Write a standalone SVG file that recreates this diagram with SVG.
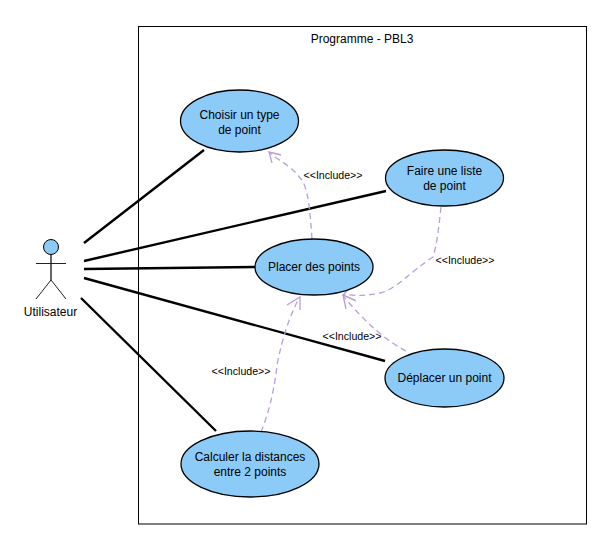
<svg xmlns="http://www.w3.org/2000/svg" width="615" height="547" viewBox="0 0 615 547">
<style>
text{font-family:"Liberation Sans",Arial,sans-serif;font-size:12px;text-anchor:middle;fill:#000}
.s{font-size:10.600px}
.u{fill:#8ccbf7;stroke:#000;stroke-width:1.3}
.a{fill:none;stroke:#000;stroke-width:2.4}
.d{fill:none;stroke:#b79fdc;stroke-width:1.3;stroke-dasharray:6 4}
.h{fill:none;stroke:#b79fdc;stroke-width:1.3}
</style>
<rect width="615" height="547" fill="#fff"/>
<g id="system"><rect x="138.500" y="26.500" width="448" height="497.500" fill="#fff" stroke="#000" stroke-width="1"/><text x="362" y="43">Programme - PBL3</text></g>
<g id="connectors">
<path class="a" d="M84 243L204 150M84 261L386 191M84 269L255 267M84 278L385 361M81 298L216 431"/>
<path class="d" d="M312 239C310 210 308 185 300 178C292 166 280 162 270 153"/><path class="h" d="M272 163L269 152L281 155"/>
<path class="d" d="M441 207C439 225 437 245 433 257C410 272 395 290 380 293C365 296 355 296 344 294"/><path class="h" d="M356 301L343 295L352 285"/>
<path class="d" d="M406 351C385 340 365 322 344 297"/><path class="h" d="M346 309L343 295L355 300"/>
<path class="d" d="M261 432C270 410 275 385 277 365C282 340 288 320 299 298"/><path class="h" d="M287 305L300 297L300 310"/>
</g>
<g id="actor"><circle cx="51" cy="247" r="7.500" fill="#8ccbf7" stroke="#000" stroke-width="1"/><path d="M51 255V280" stroke="#666" stroke-width="2" fill="none"/><path d="M36 263.500H66M36 299L51 280L66 299" stroke="#222" stroke-width="1" fill="none"/><text x="50.500" y="316">Utilisateur</text></g>
<g id="uc1"><ellipse class="u" cx="239.500" cy="121" rx="59" ry="31"/><text x="239.500" y="119">Choisir un type</text><text x="239.500" y="134">de point</text></g>
<g id="uc2"><ellipse class="u" cx="444.500" cy="178" rx="59" ry="28"/><text x="444.500" y="175">Faire une liste</text><text x="444.500" y="190">de point</text></g>
<g id="uc3"><ellipse class="u" cx="314" cy="267" rx="59" ry="28"/><text x="314" y="271">Placer des points</text></g>
<g id="uc4"><ellipse class="u" cx="444.500" cy="378" rx="59.500" ry="29"/><text x="444.500" y="382">Déplacer un point</text></g>
<g id="uc5"><ellipse class="u" cx="250" cy="464" rx="69" ry="33"/><text x="250" y="461">Calculer la distances</text><text x="250" y="476">entre 2 points</text></g>
<g id="labels"><text class="s" x="333" y="179">&lt;&lt;Include&gt;&gt;</text><text class="s" x="465" y="264">&lt;&lt;Include&gt;&gt;</text><text class="s" x="352" y="340">&lt;&lt;Include&gt;&gt;</text><text class="s" x="241" y="375">&lt;&lt;Include&gt;&gt;</text></g>
</svg>
